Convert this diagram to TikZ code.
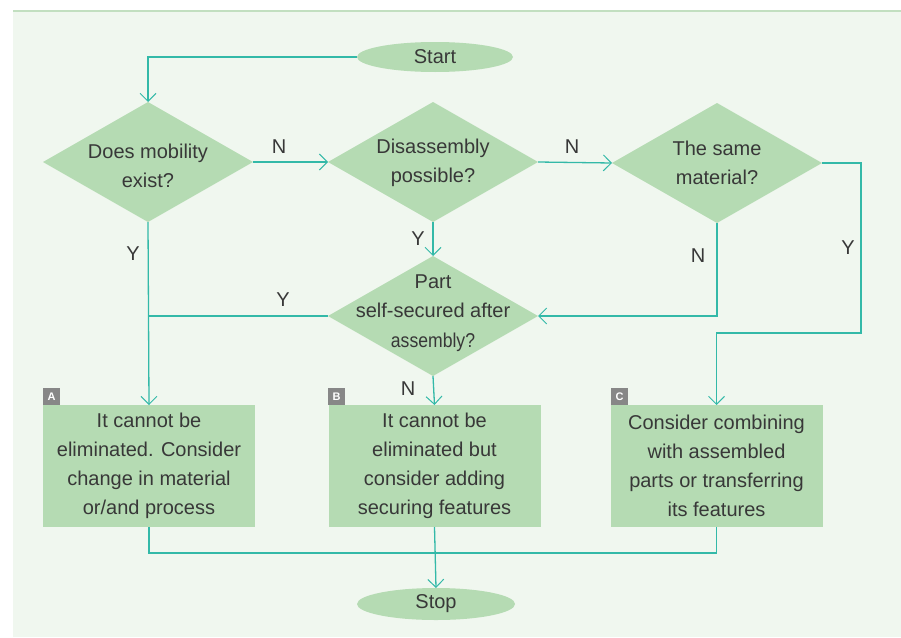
\documentclass[tikz,border=0pt]{standalone}
\usepackage{fontspec}
\setmainfont{Liberation Sans}
\usetikzlibrary{shapes.geometric,arrows.meta}
\definecolor{bgc}{HTML}{F0F7EF}
\definecolor{topc}{HTML}{C2DFC0}
\definecolor{boxfill}{HTML}{B5DBB3}
\definecolor{linec}{HTML}{33B9A8}
\definecolor{textc}{HTML}{383838}
\definecolor{tagc}{HTML}{878787}
\tikzset{
  flow/.style={draw=linec, line width=1.3pt},
  arr/.style={flow, -{Straight Barb[length=8pt,width=16pt,line width=1pt]}},
  dia/.style={diamond, fill=boxfill, minimum width=210pt, minimum height=120pt, inner sep=0pt, outer sep=0pt},
  txt/.style={text=textc, font=\fontsize{20}{29.5}\selectfont, align=center, inner sep=0pt},
  procbox/.style={rectangle, fill=boxfill, minimum width=212pt, minimum height=122pt, inner sep=0pt, outer sep=0pt, text=textc, font=\fontsize{20}{29}\selectfont, align=center},
  term/.style={ellipse, fill=boxfill, minimum width=156pt, minimum height=30pt, inner sep=0pt, outer sep=0pt, text=textc, font=\fontsize{20}{23}\selectfont},
  tag/.style={rectangle, fill=tagc, text=white, font=\bfseries\fontsize{11}{11}\selectfont, minimum size=17pt, inner sep=0pt},
  yn/.style={text=textc, font=\fontsize{20}{20}\selectfont, inner sep=0pt}
}
\begin{document}
\begin{tikzpicture}[x=1pt,y=-1pt]
\useasboundingbox (0,0) rectangle (901,637);
\fill[bgc] (13,11) rectangle (901,637);
\draw[topc, line width=1.5pt] (13,11) -- (901,11);

% terminals
\node[term] (start) at (435,57) {Start};
\node[term, minimum width=158pt, minimum height=32pt] (stop) at (436,604) {Stop};

% decisions
\node[dia] (d1) at (148,162) {};
\node[txt] (t1) at (148,166) {Does mobility\\exist?};
\node[dia] (d2) at (433,162) {};
\node[txt] (t2) at (433,163) {Disassembly\\possible?};
\node[dia] (d3) at (717,163) {};
\node[txt] (t3) at (717,163) {The same\\material?};
\node[dia] (d4) at (433,316) {};
\node[txt] (t4) at (433,313) {Part\\self-secured after\\\scalebox{0.88}[1]{assembly?}};

% process boxes
\node[procbox] (bA) at (149,466) {It cannot be\\eliminated. Consider\\change in material\\or/and process};
\node[procbox] (bB) at (434.5,466) {It cannot be\\eliminated but\\consider adding\\securing features};
\node[procbox] (bC) at (716.5,466) {Consider combining\\with assembled\\parts or transferring\\its features};

\node[tag] (tA) at (51.5,396.5) {A};
\node[tag] (tB) at (336.5,396.5) {B};
\node[tag] (tC) at (619.5,396.5) {C};

% helper coordinates
\coordinate (c1) at (861,163);
\coordinate (c2) at (861,333);
\coordinate (j) at (436,553);

% connectors
\draw[arr] (start.west) -| (d1.north);
\draw[arr] (d1.east) -- (d2.west);
\draw[arr] (d2.east) -- (d3.west);
\draw[arr] (d2.south) -- (d4.north);
\draw[arr] (d1.south) -- (bA.north);
\draw[flow] (d4.west) -- (d4.west -| d1.south);
\draw[arr] (d3.south) |- (d4.east);
\draw[arr] (d3.east) -- (c1) -- (c2) -| (bC.north);
\draw[arr] (d4.south) -- (bB.north);
\draw[flow] (bA.south) |- (j);
\draw[flow] (bC.south) |- (j);
\draw[arr] (bB.south) -- (stop.north);

% labels
\node[yn] (n1) at (279,147) {N};
\node[yn] (n2) at (572,147) {N};
\node[yn] (y3) at (848,248) {Y};
\node[yn] (n3) at (698,256) {N};
\node[yn] (y2) at (418,239) {Y};
\node[yn] (y4) at (283,300) {Y};
\node[yn] (y1) at (133,254) {Y};
\node[yn] (n4) at (408,389) {N};
\end{tikzpicture}
\end{document}
